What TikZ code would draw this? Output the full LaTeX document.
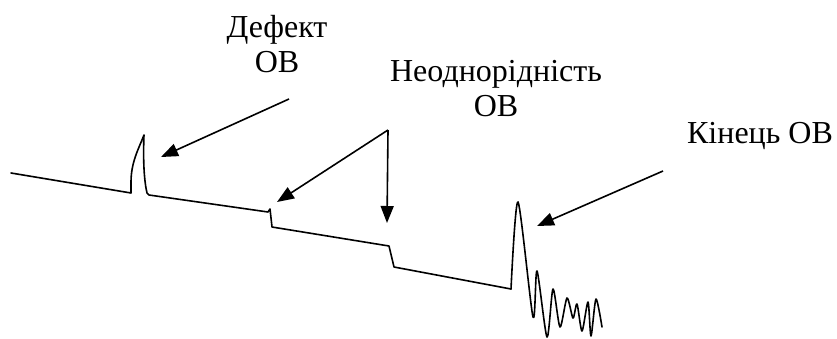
\documentclass[tikz,border=0pt]{standalone}
\usepackage{fontspec}
\setmainfont{Liberation Serif}
\usetikzlibrary{arrows.meta}

\begin{document}
\begin{tikzpicture}[x=1pt, y=-1pt,
  trace/.style={line width=1.6pt, line join=round, line cap=round},
  pointer/.style={line width=1.6pt, -{Triangle[length=17pt, width=13pt]}},
  caption/.style={font=\fontsize{32}{35}\selectfont, align=center, inner sep=0pt, anchor=base}]
  \useasboundingbox (0,0) rectangle (837,338);

  % labels (base anchor sits on the last line)
  \node[caption] (defect) at (277,72) {Дефект\\ОВ};
  \node[caption] (inhom) at (496,116) {Неоднорідність\\ОВ};
  \node[caption] (fend) at (760,143) {Кінець ОВ};

  % reflectogram trace
  \draw[trace] (11,173) -- (131,193) -- (131,182)
    .. controls (131,162) and (139,148) .. (144,135)
    .. controls (143,160) and (144,180) .. (147,193) -- (149,195)
    -- (268,212) -- (270,209) -- (272,227)
    -- (389,246) -- (394,267) -- (511,289);
  \draw[trace] plot[smooth, tension=0.45] coordinates {
    (511,289) (518,202) (533,317) (537,271) (547,337) (553,289)
    (560,327) (567,298) (573,318) (577,304) (582,331) (588,302)
    (591,336) (596,299) (602,327)};

  % arrow anchors
  \coordinate (defFrom) at (289,99);
  \coordinate (defTo) at (161,157);
  \coordinate (inhFrom) at (388,130);
  \coordinate (inhToA) at (277,202);
  \coordinate (inhToB) at (387,223);
  \coordinate (endFrom) at (663,171);
  \coordinate (endTo) at (537,226);

  \draw[pointer] (defFrom) -- (defTo);
  \draw[pointer] (inhFrom) -- (inhToA);
  \draw[pointer] (inhFrom) -- (inhToB);
  \draw[pointer] (endFrom) -- (endTo);
\end{tikzpicture}
\end{document}
